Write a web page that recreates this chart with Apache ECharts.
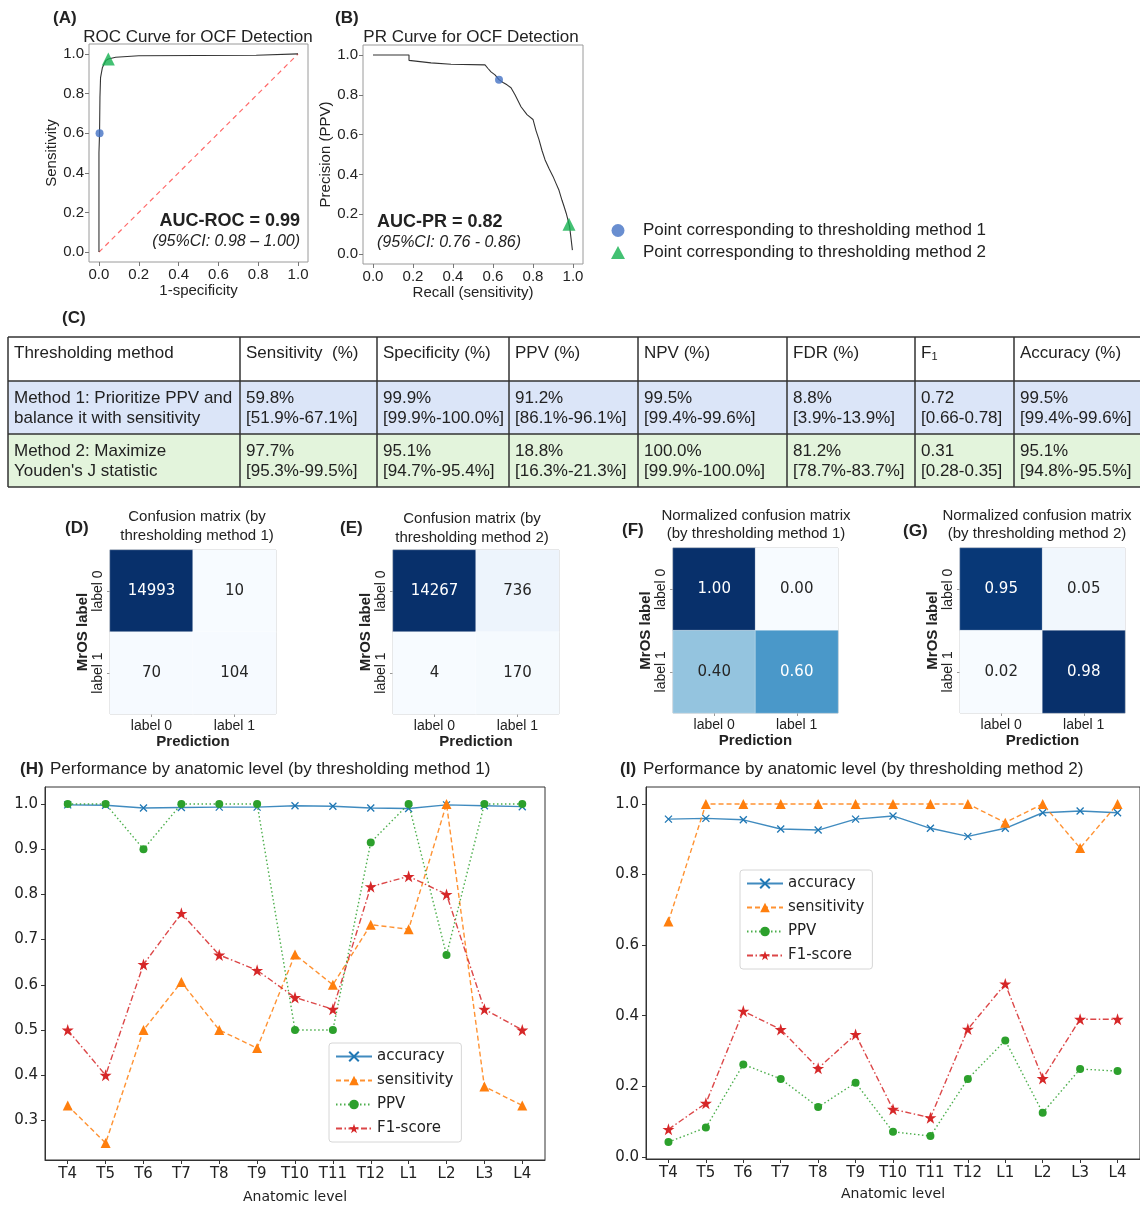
<!DOCTYPE html>
<html>
<head>
<meta charset="utf-8">
<script src="https://cdn.jsdelivr.net/npm/echarts@6/dist/echarts.min.js"></script>
<style>
  html, body { margin: 0; padding: 0; background: #fff; }
  #chart { width: 1140px; height: 1205px; }
</style>
</head>
<body>
<div id="chart"></div>
<script>
// ---- data ----
const rocFpr = [0, 0, 0.003, 0.005, 0.008, 0.017, 0.034, 0.047, 0.084, 0.2, 0.79, 0.8, 1.0];
const rocTpr = [0, 0.5, 0.60, 0.78, 0.88, 0.93, 0.966, 0.974, 0.983, 0.991, 0.993, 1.0, 1.0];
const prRecall = [0, 0.18, 0.18, 0.29, 0.39, 0.56, 0.575, 0.59, 0.61, 0.63, 0.65, 0.67, 0.69, 0.71, 0.74, 0.77, 0.80,
                  0.815, 0.83, 0.845, 0.86, 0.88, 0.90, 0.915, 0.93, 0.945, 0.955, 0.966, 0.975, 0.983, 0.99, 0.997];
const prPrecision = [1.0, 1.0, 0.973, 0.96, 0.953, 0.95, 0.932, 0.915, 0.9, 0.876, 0.862, 0.85, 0.835, 0.80, 0.74, 0.70, 0.676,
                     0.62, 0.575, 0.52, 0.474, 0.43, 0.39, 0.355, 0.32, 0.27, 0.24, 0.205, 0.17, 0.138, 0.08, 0.02];
const rocPoint1 = [0.003, 0.60];
const rocPoint2 = [0.047, 0.974];
const prPoint1 = [0.63, 0.876];
const prPoint2 = [0.98, 0.15];
const unitTicks = [0, 0.2, 0.4, 0.6, 0.8, 1.0];

const tableHeaders = ['Thresholding method', 'Sensitivity  (%)', 'Specificity (%)', 'PPV (%)', 'NPV (%)', 'FDR (%)', 'F1', 'Accuracy (%)'];
const method1Cells = [
  ['Method 1: Prioritize PPV and', 'balance it with sensitivity'],
  ['59.8%', '[51.9%-67.1%]'], ['99.9%', '[99.9%-100.0%]'], ['91.2%', '[86.1%-96.1%]'],
  ['99.5%', '[99.4%-99.6%]'], ['8.8%', '[3.9%-13.9%]'], ['0.72', '[0.66-0.78]'], ['99.5%', '[99.4%-99.6%]']
];
const method2Cells = [
  ['Method 2: Maximize', "Youden's J statistic"],
  ['97.7%', '[95.3%-99.5%]'], ['95.1%', '[94.7%-95.4%]'], ['18.8%', '[16.3%-21.3%]'],
  ['100.0%', '[99.9%-100.0%]'], ['81.2%', '[78.7%-83.7%]'], ['0.31', '[0.28-0.35]'], ['95.1%', '[94.8%-95.5%]']
];

const cmLabels = ['label 0', 'label 1'];
const cmMethod1 = [[14993, 10], [70, 104]];
const cmMethod2 = [[14267, 736], [4, 170]];
const cmNorm1 = [[1.00, 0.00], [0.40, 0.60]];
const cmNorm2 = [[0.95, 0.05], [0.02, 0.98]];

const levels = ['T4', 'T5', 'T6', 'T7', 'T8', 'T9', 'T10', 'T11', 'T12', 'L1', 'L2', 'L3', 'L4'];
const m1Accuracy = [0.998, 0.997, 0.991, 0.992, 0.993, 0.993, 0.996, 0.995, 0.991, 0.990, 0.998, 0.996, 0.994];
const m1Sensitivity = [0.333, 0.25, 0.5, 0.606, 0.5, 0.46, 0.667, 0.6, 0.733, 0.723, 1.0, 0.375, 0.333];
const m1Ppv = [1.0, 1.0, 0.9, 1.0, 1.0, 1.0, 0.5, 0.5, 0.915, 1.0, 0.666, 1.0, 1.0];
const m1F1 = [0.5, 0.4, 0.645, 0.758, 0.666, 0.632, 0.572, 0.546, 0.817, 0.84, 0.8, 0.546, 0.5];
const m2Accuracy = [0.957, 0.959, 0.955, 0.929, 0.926, 0.957, 0.966, 0.931, 0.908, 0.931, 0.975, 0.980, 0.975];
const m2Sensitivity = [0.667, 1.0, 1.0, 1.0, 1.0, 1.0, 1.0, 1.0, 1.0, 0.947, 1.0, 0.875, 1.0];
const m2Ppv = [0.042, 0.083, 0.262, 0.221, 0.141, 0.21, 0.071, 0.059, 0.221, 0.33, 0.125, 0.249, 0.243];
const m2F1 = [0.078, 0.152, 0.413, 0.361, 0.251, 0.347, 0.135, 0.111, 0.362, 0.49, 0.222, 0.39, 0.39];
const h1Ticks = [0.3, 0.4, 0.5, 0.6, 0.7, 0.8, 0.9, 1.0];
const h2Ticks = [0, 0.2, 0.4, 0.6, 0.8, 1.0];

// ---- styles ----
const SANS = '"Liberation Sans", Arial, sans-serif';
const DEJA = '"DejaVu Sans", sans-serif';
const blues = ['#f7fbff', '#deebf7', '#c6dbef', '#9ecae1', '#6baed6', '#4292c6', '#2171b5', '#08519c', '#08306b'];
const pt1Name = 'Point corresponding to thresholding method 1';
const pt2Name = 'Point corresponding to thresholding method 2';
const pt1Color = '#4472c4';
const pt2Color = '#14b150';
const starPath = 'path://M12,0L14.8,8.6L23.8,8.6L16.5,13.9L19.3,22.5L12,17.2L4.7,22.5L7.5,13.9L0.2,8.6L9.2,8.6Z';
const crossPath = 'path://M0,0L10,10M10,0L0,10';

const zip = (xs, ys) => xs.map((x, i) => [x, ys[i]]);
const idx = (ys) => ys.map((y, i) => [i, y]);

function txt(x, y, s, font, align, extra) {
  return Object.assign({
    type: 'text', x: x, y: y, silent: true,
    style: { text: s, font: font, fill: '#222', align: align || 'left', verticalAlign: 'middle',
             textAlign: align || 'left', textVerticalAlign: 'middle' }
  }, extra || {});
}

// ---- grids ----
const grids = [
  { left: 89, top: 44, width: 219, height: 218 },   // A
  { left: 363, top: 45, width: 220, height: 219 },  // B
  { left: 110, top: 550, width: 166, height: 164 }, // D
  { left: 393, top: 550, width: 166, height: 164 }, // E
  { left: 673, top: 548, width: 165, height: 165 }, // F
  { left: 960, top: 548, width: 165, height: 165 }, // G
  { left: 45, top: 787, width: 500, height: 373 },  // H
  { left: 646, top: 787, width: 500, height: 372 }  // I
].map((g, i) => Object.assign({
  show: true, borderColor: i < 2 ? '#9a9a9a' : (i < 6 ? '#b5b5b5' : '#333'),
  borderWidth: 1, backgroundColor: 'transparent', containLabel: false
}, g));

function unitAxis(gridIndex, name, gap, isY) {
  return {
    type: 'value', gridIndex: gridIndex, min: -0.05, max: 1.05,
    name: name, nameLocation: 'middle', nameGap: gap, nameRotate: isY ? 90 : 0,
    nameTextStyle: { fontFamily: SANS, fontSize: 15, color: '#222' },
    axisLine: { show: false, onZero: false }, splitLine: { show: false },
    axisTick: { show: true, length: 4, customValues: unitTicks, lineStyle: { color: '#777' } },
    axisLabel: { customValues: unitTicks, fontFamily: SANS, fontSize: 15, color: '#222', margin: 5,
                 formatter: v => v.toFixed(1) }
  };
}

function cmAxis(gridIndex, isY) {
  return {
    type: 'category', gridIndex: gridIndex, data: cmLabels, inverse: !!isY,
    name: isY ? 'MrOS label' : 'Prediction', nameLocation: 'middle', nameGap: isY ? 20 : 20,
    nameRotate: isY ? 90 : 0,
    nameTextStyle: { fontFamily: SANS, fontSize: 15, fontWeight: 'bold', color: '#222' },
    axisLine: { show: false }, splitLine: { show: false },
    axisTick: { show: true, alignWithLabel: true, length: 3, lineStyle: { color: '#999' } },
    axisLabel: { fontFamily: SANS, fontSize: 14, color: '#222', rotate: isY ? 90 : 0, margin: 5 }
  };
}

function levelAxis(gridIndex, gap) {
  return {
    type: 'value', gridIndex: gridIndex, min: -0.6, max: 12.6,
    name: 'Anatomic level', nameLocation: 'middle', nameGap: gap,
    nameTextStyle: { fontFamily: DEJA, fontSize: 14, color: '#222' },
    axisLine: { show: true, onZero: false, lineStyle: { color: '#333' } }, splitLine: { show: false },
    axisTick: { show: true, length: 4, customValues: levels.map((_, i) => i), lineStyle: { color: '#333' } },
    axisLabel: { customValues: levels.map((_, i) => i), fontFamily: DEJA, fontSize: 15, color: '#222', margin: 7,
                 formatter: v => levels[Math.round(v)] }
  };
}

function scoreAxis(gridIndex, min, max, ticks) {
  return {
    type: 'value', gridIndex: gridIndex, min: min, max: max,
    axisLine: { show: true, onZero: false, lineStyle: { color: '#333' } }, splitLine: { show: false },
    axisTick: { show: true, length: 4, customValues: ticks, lineStyle: { color: '#333' } },
    axisLabel: { customValues: ticks, fontFamily: DEJA, fontSize: 15, color: '#222', margin: 7,
                 formatter: v => v.toFixed(1) }
  };
}

const xAxes = [
  unitAxis(0, '1-specificity', 19, false),
  unitAxis(1, 'Recall (sensitivity)', 18, false),
  cmAxis(2, false), cmAxis(3, false), cmAxis(4, false), cmAxis(5, false),
  levelAxis(6, 30), levelAxis(7, 28)
];
const yAxes = [
  unitAxis(0, 'Sensitivity', 17, true),
  unitAxis(1, 'Precision (PPV)', 26, true),
  cmAxis(2, true), cmAxis(3, true), cmAxis(4, true), cmAxis(5, true),
  scoreAxis(6, 0.2125, 1.0375, h1Ticks),
  scoreAxis(7, -0.006, 1.048, h2Ticks)
];

// ---- series ----
const series = [];
function curve(k, data) {
  series.push({ type: 'line', xAxisIndex: k, yAxisIndex: k, data: data, symbol: 'none', silent: true,
                lineStyle: { color: '#333', width: 1.1 }, z: 3 });
}
function points(k, p1, p2) {
  series.push({ name: pt1Name, type: 'scatter', xAxisIndex: k, yAxisIndex: k, data: [p1],
                symbol: 'circle', symbolSize: 8, itemStyle: { color: pt1Color }, z: 5 });
  series.push({ name: pt2Name, type: 'scatter', xAxisIndex: k, yAxisIndex: k, data: [p2],
                symbol: 'triangle', symbolSize: 13, itemStyle: { color: pt2Color }, z: 5 });
}
series.push({ type: 'line', xAxisIndex: 0, yAxisIndex: 0, data: [[0, 0], [1, 1]], symbol: 'none', silent: true,
              lineStyle: { color: '#ff6b6b', width: 1.2, type: [5, 4] }, z: 2 });
curve(0, zip(rocFpr, rocTpr));
points(0, rocPoint1, rocPoint2);
curve(1, zip(prRecall, prPrecision));
points(1, prPoint1, prPoint2);

const matrices = [cmMethod1, cmMethod2, cmNorm1, cmNorm2];
const visualMaps = [];
matrices.forEach((m, j) => {
  const flat = m[0].concat(m[1]);
  const lo = Math.min.apply(null, flat), hi = Math.max.apply(null, flat);
  const isNorm = j >= 2;
  const data = [];
  m.forEach((row, r) => row.forEach((v, c) => {
    const t = (v - lo) / (hi - lo);
    data.push({ value: [c, r, v], label: { color: t > 0.5 ? '#ffffff' : '#262626' } });
  }));
  visualMaps.push({ show: false, seriesIndex: series.length, min: lo, max: hi, dimension: 2,
                    inRange: { color: blues } });
  series.push({
    type: 'heatmap', xAxisIndex: 2 + j, yAxisIndex: 2 + j, data: data,
    itemStyle: { borderColor: 'rgba(255,255,255,0.6)', borderWidth: 0.5 },
    label: { show: true, fontFamily: DEJA, fontSize: 15,
             formatter: p => isNorm ? p.value[2].toFixed(2) : String(p.value[2]) },
    emphasis: { disabled: true }
  });
});

const metricStyles = [
  { name: 'accuracy', color: '#1f77b4', symbol: crossPath, size: 7, type: 'solid' },
  { name: 'sensitivity', color: '#ff7f0e', symbol: 'triangle', size: 10, type: [5, 3] },
  { name: 'PPV', color: '#2ca02c', symbol: 'circle', size: 8, type: [1.5, 2.5] },
  { name: 'F1-score', color: '#d62728', symbol: starPath, size: 12, type: [6, 2.5, 1.5, 2.5] }
];
const levelSets = [[m1Accuracy, m1Sensitivity, m1Ppv, m1F1], [m2Accuracy, m2Sensitivity, m2Ppv, m2F1]];
levelSets.forEach((set, g) => {
  set.forEach((vals, k) => {
    const st = metricStyles[k];
    series.push({
      name: st.name, type: 'line', xAxisIndex: 6 + g, yAxisIndex: 6 + g, data: idx(vals),
      symbol: st.symbol, symbolSize: st.size, showAllSymbol: true,
      itemStyle: { color: st.color, borderColor: st.color, borderWidth: k === 0 ? 1.3 : 0 },
      lineStyle: { color: st.color, width: 1.4, type: st.type, opacity: 0.85 },
      z: 3 + k
    });
  });
});

// ---- legends ----
const metricNames = metricStyles.map(s => s.name);
function metricLegend(left, top) {
  return {
    data: metricNames, left: left, top: top, orient: 'vertical', itemWidth: 36, itemHeight: 12, itemGap: 9,
    padding: [6, 8, 6, 6], backgroundColor: '#fff', borderColor: '#d6d6d6', borderWidth: 1, borderRadius: 3,
    textStyle: { fontFamily: DEJA, fontSize: 15, color: '#222' }, selectedMode: false
  };
}
const legends = [
  { data: [pt1Name, pt2Name], left: 606, top: 217, orient: 'vertical', itemWidth: 14, itemHeight: 13, itemGap: 5,
    textStyle: { fontFamily: SANS, fontSize: 17, color: '#222', padding: [0, 0, 0, 13] }, selectedMode: false },
  metricLegend(329, 1043),
  metricLegend(740, 870)
];

// ---- graphic text and table ----
const g = [];
const letterFont = 'bold 17px ' + SANS;
g.push(txt(53, 18, '(A)', letterFont));
g.push(txt(198, 37, 'ROC Curve for OCF Detection', '17px ' + SANS, 'center'));
g.push(txt(335, 18, '(B)', letterFont));
g.push(txt(471, 37, 'PR Curve for OCF Detection', '17px ' + SANS, 'center'));
g.push(txt(300, 221, 'AUC-ROC = 0.99', 'bold 18px ' + SANS, 'right'));
g.push(txt(300, 242, '(95%CI: 0.98 \u2013 1.00)', 'italic 16px ' + SANS, 'right'));
g.push(txt(377, 222, 'AUC-PR = 0.82', 'bold 18px ' + SANS, 'left'));
g.push(txt(377, 243, '(95%CI: 0.76 - 0.86)', 'italic 16px ' + SANS, 'left'));

g.push(txt(62, 318, '(C)', letterFont));
const colEdges = [8, 240, 377, 509, 638, 787, 915, 1014, 1150];
const rowEdges = [337, 381, 434, 487];
const rowFills = ['#ffffff', '#dbe5f8', '#e3f4dc'];
rowFills.forEach((f, r) => {
  g.push({ type: 'rect', silent: true, shape: { x: colEdges[0], y: rowEdges[r], width: colEdges[8] - colEdges[0],
           height: rowEdges[r + 1] - rowEdges[r] }, style: { fill: f } });
});
rowEdges.forEach(y => g.push({ type: 'line', silent: true, shape: { x1: colEdges[0], y1: y, x2: colEdges[8], y2: y },
                               style: { stroke: '#333', lineWidth: 1.5 } }));
colEdges.slice(0, 8).forEach(x => g.push({ type: 'line', silent: true, shape: { x1: x, y1: rowEdges[0], x2: x, y2: rowEdges[3] },
                               style: { stroke: '#333', lineWidth: 1.5 } }));
const cellFont = '17px ' + SANS;
tableHeaders.forEach((h, c) => {
  if (h === 'F1') {
    g.push({ type: 'text', x: colEdges[c] + 6, y: 353, silent: true,
             style: { text: '{f|F}{s|1}', fill: '#222', verticalAlign: 'middle', textVerticalAlign: 'middle',
                      rich: { f: { fontSize: 17, fontFamily: SANS, fill: '#222', color: '#222' },
                              s: { fontSize: 11, fontFamily: SANS, fill: '#222', color: '#222', padding: [8, 0, 0, 0] } } } });
  } else {
    g.push(txt(colEdges[c] + 6, 353, h, cellFont));
  }
});
[method1Cells, method2Cells].forEach((rowCells, r) => {
  const top = rowEdges[r + 1];
  rowCells.forEach((lines, c) => {
    g.push(txt(colEdges[c] + 6, top + 17, lines[0], cellFont));
    g.push(txt(colEdges[c] + 6, top + 37, lines[1], cellFont));
  });
});

const cmTitles = [
  { letter: '(D)', lx: 65, ly: 528, cx: 197, y1: 517, y2: 536, l1: 'Confusion matrix (by', l2: 'thresholding method 1)' },
  { letter: '(E)', lx: 340, ly: 528, cx: 472, y1: 519, y2: 538, l1: 'Confusion matrix (by', l2: 'thresholding method 2)' },
  { letter: '(F)', lx: 622, ly: 530, cx: 756, y1: 516, y2: 534, l1: 'Normalized confusion matrix', l2: '(by thresholding method 1)' },
  { letter: '(G)', lx: 903, ly: 531, cx: 1037, y1: 516, y2: 534, l1: 'Normalized confusion matrix', l2: '(by thresholding method 2)' }
];
cmTitles.forEach(t => {
  g.push(txt(t.lx, t.ly, t.letter, letterFont));
  g.push(txt(t.cx, t.y1, t.l1, '15px ' + SANS, 'center'));
  g.push(txt(t.cx, t.y2, t.l2, '15px ' + SANS, 'center'));
});
g.push(txt(20, 769, '(H)', letterFont));
g.push(txt(50, 769, 'Performance by anatomic level (by thresholding method 1)', '17px ' + SANS));
g.push(txt(620, 769, '(I)', letterFont));
g.push(txt(643, 769, 'Performance by anatomic level (by thresholding method 2)', '17px ' + SANS));

// ---- chart ----
const chart = echarts.init(document.getElementById('chart'));
chart.setOption({
  animation: false,
  backgroundColor: '#ffffff',
  grid: grids,
  xAxis: xAxes,
  yAxis: yAxes,
  visualMap: visualMaps,
  legend: legends,
  series: series,
  graphic: { elements: g }
});
</script>
</body>
</html>
